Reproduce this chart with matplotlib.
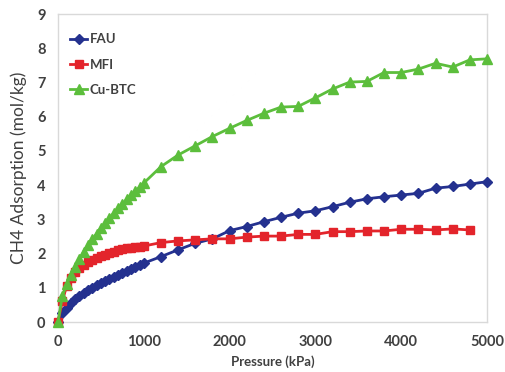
import matplotlib
matplotlib.use("Agg")
import matplotlib.pyplot as plt

# ---- data ----
pressure = [0, 50, 100, 150, 200, 250, 300, 350, 400, 450, 500, 550, 600, 650, 700,
            750, 800, 850, 900, 950, 1000, 1200, 1400, 1600, 1800, 2000, 2200, 2400,
            2600, 2800, 3000, 3200, 3400, 3600, 3800, 4000, 4200, 4400, 4600, 4800, 5000]

fau = [0, 0.25, 0.42, 0.55, 0.66, 0.76, 0.85, 0.93, 1.00, 1.07, 1.14, 1.20, 1.26,
       1.32, 1.38, 1.44, 1.50, 1.55, 1.61, 1.66, 1.72, 1.91, 2.11, 2.30, 2.43, 2.67,
       2.79, 2.93, 3.06, 3.18, 3.25, 3.37, 3.50, 3.60, 3.66, 3.71, 3.76, 3.91, 3.96,
       4.03, 4.10]

mfi_pressure = pressure[:-1]
mfi = [0, 0.60, 1.05, 1.30, 1.45, 1.57, 1.66, 1.74, 1.80, 1.86, 1.92, 1.97, 2.01,
       2.05, 2.09, 2.12, 2.15, 2.17, 2.19, 2.20, 2.22, 2.32, 2.37, 2.40, 2.43, 2.43,
       2.48, 2.51, 2.51, 2.56, 2.56, 2.64, 2.64, 2.66, 2.66, 2.71, 2.71, 2.69, 2.72,
       2.69]

cubtc = [0, 0.75, 1.10, 1.38, 1.62, 1.85, 2.05, 2.24, 2.42, 2.58, 2.75, 2.90, 3.05,
         3.18, 3.32, 3.45, 3.58, 3.70, 3.82, 3.94, 4.06, 4.54, 4.88, 5.15, 5.42, 5.66,
         5.89, 6.10, 6.28, 6.30, 6.55, 6.81, 7.01, 7.03, 7.29, 7.29, 7.39, 7.56, 7.45,
         7.66, 7.69]

x_ticks = [0, 1000, 2000, 3000, 4000, 5000]
y_ticks = [0, 1, 2, 3, 4, 5, 6, 7, 8, 9]

# ---- plot ----
plt.rcParams['font.family'] = ['Lato', 'DejaVu Sans']
fig = plt.figure(figsize=(5.05, 3.72), dpi=100)
ax = fig.add_axes([58/505, 50/372, 429/505, 308/372])

blue = '#24318F'
red = '#E3242B'
green = '#5CBE3C'

ax.plot(pressure, fau, color=blue, lw=2, marker='D', ms=5, mec=blue, mfc=blue,
        label='FAU', clip_on=False, zorder=3)
ax.plot(mfi_pressure, mfi, color=red, lw=2, marker='s', ms=6, mec=red, mfc=red,
        label='MFI', clip_on=False, zorder=3)
ax.plot(pressure, cubtc, color=green, lw=2, marker='^', ms=7, mec=green, mfc=green,
        label='Cu-BTC', clip_on=False, zorder=4)

ax.set_xlim(0, 5000)
ax.set_ylim(0, 9)
ax.set_xticks(x_ticks)
ax.set_yticks(y_ticks)
ax.tick_params(length=0, labelsize=10.5, colors='#404040', pad=9)
for lab in ax.get_xticklabels() + ax.get_yticklabels():
    lab.set_fontweight('bold')
for s in ax.spines.values():
    s.set_color('#D9D9D9')
    s.set_linewidth(1)

ax.set_xlabel('Pressure (kPa)', fontsize=9.5, fontweight='bold', color='#404040', labelpad=5)
ax.set_ylabel('CH4 Adsorption (mol/kg)', fontsize=12.5, color='#404040', labelpad=7)

leg = ax.legend(loc='upper left', bbox_to_anchor=(0.028, 0.937), frameon=False,
                borderaxespad=0, borderpad=0, handlelength=1.3, handletextpad=0.2,
                labelspacing=1.0, prop={'size': 9.5, 'weight': 'bold'})
for t in leg.get_texts():
    t.set_color('#404040')

fig.savefig('out.png', dpi=100)
